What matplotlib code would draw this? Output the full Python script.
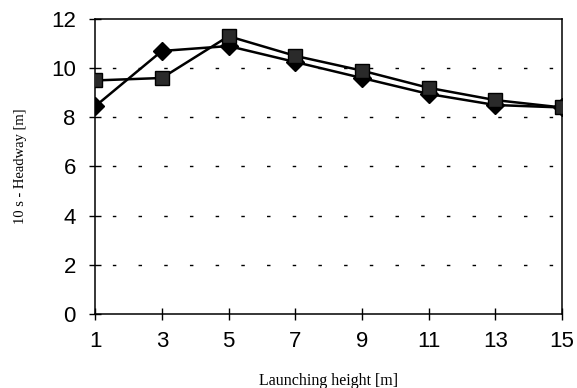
import matplotlib
matplotlib.use("Agg")
import matplotlib.pyplot as plt

heights = [1, 3, 5, 7, 9, 11, 13, 15]
headway_diamond = [8.45, 10.7, 10.9, 10.25, 9.6, 8.95, 8.5, 8.4]
headway_square = [9.5, 9.6, 11.3, 10.5, 9.9, 9.2, 8.7, 8.4]
y_ticks = [0, 2, 4, 6, 8, 10, 12]

fig = plt.figure(figsize=(5.77, 3.88), dpi=100)
ax = fig.add_axes([0.165, 0.191, 0.809, 0.760])

# dotted horizontal gridlines
for y in y_ticks[1:-1]:
    ax.axhline(y, color="black", lw=1.0, ls=(6, (2.5, 16)), zorder=0)

ax.plot(heights, headway_diamond, color="black", lw=1.8, marker="D",
        markersize=9, markerfacecolor="black", markeredgecolor="black", zorder=3)
ax.plot(heights, headway_square, color="black", lw=1.8, marker="s",
        markersize=10, markerfacecolor="#2a2a2a", markeredgecolor="black", zorder=4)

ax.set_xlim(1, 15)
ax.set_ylim(0, 12)
ax.set_xticks(heights)
ax.set_yticks(y_ticks)
ax.tick_params(axis="y", direction="inout", length=8, width=1,
               labelsize=16, pad=10)
ax.tick_params(axis="x", direction="inout", length=9, width=1,
               labelsize=16, pad=8)
for lab in ax.get_xticklabels() + ax.get_yticklabels():
    lab.set_family("Liberation Sans")

for s in ax.spines.values():
    s.set_linewidth(1.1)

ax.set_xlabel("Launching height [m]", family="Liberation Serif", fontsize=11.5, labelpad=15)
ax.set_ylabel("10 s - Headway [m]", family="Liberation Serif", fontsize=10.5, labelpad=17)

fig.savefig("out.png", dpi=100)
